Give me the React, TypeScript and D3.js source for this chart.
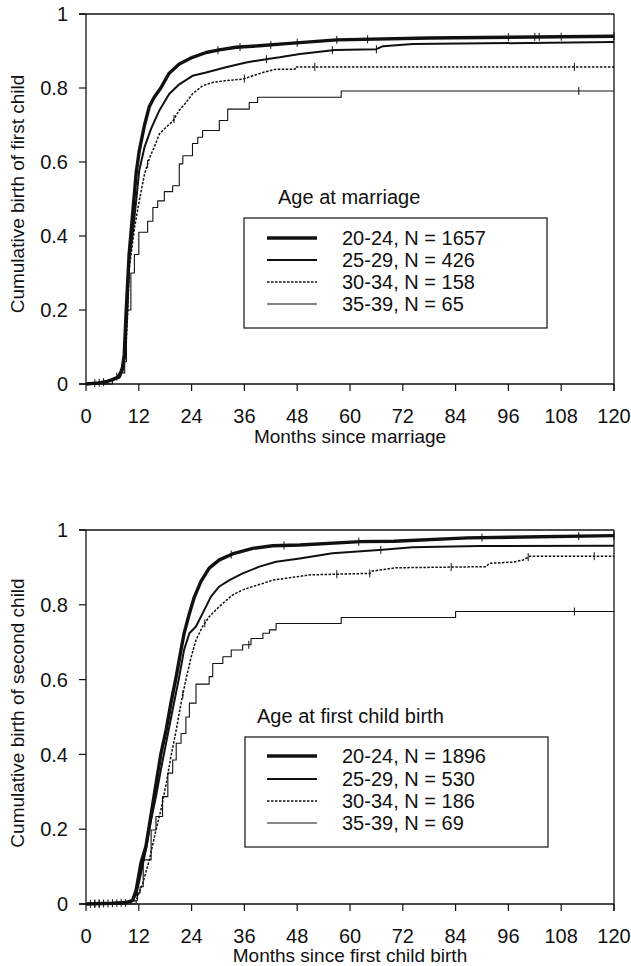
import React from "react";
import * as d3 from "d3";

// ---------- data ----------
const X_TICKS = [0, 12, 24, 36, 48, 60, 72, 84, 96, 108, 120];
const Y_TICKS = [0, 0.2, 0.4, 0.6, 0.8, 1];
const Y_TICK_LABELS = ["0", "0.2", "0.4", "0.6", "0.8", "1"];

const LEGEND_TITLE_1 = "Age at marriage";
const LEGEND_LABELS_1 = ["20-24, N = 1657", "25-29, N = 426", "30-34, N = 158", "35-39, N = 65"];
const X_TITLE_1 = "Months since marriage";
const Y_TITLE_1 = "Cumulative birth of first child";

const LEGEND_TITLE_2 = "Age at first child birth";
const LEGEND_LABELS_2 = ["20-24, N = 1896", "25-29, N = 530", "30-34, N = 186", "35-39, N = 69"];
const X_TITLE_2 = "Months since first child birth";
const Y_TITLE_2 = "Cumulative birth of second child";

type Pt = [number, number];

const FIRST_20_24: Pt[] = [[0,0],[3,0.003],[4.5,0.006],[6,0.012],[7.6,0.02],[8.3,0.045],[8.7,0.08],[9.1,0.19],[9.8,0.35],[10.6,0.46],[11.4,0.57],[12.1,0.63],[13.3,0.70],[14.4,0.75],[15.5,0.775],[17,0.80],[18.9,0.84],[21.2,0.865],[24.2,0.883],[27.3,0.896],[30.3,0.903],[34.1,0.91],[39.4,0.914],[45.5,0.92],[57,0.93],[78,0.935],[120,0.94]];
const FIRST_25_29: Pt[] = [[0,0],[4.5,0.005],[6.8,0.015],[8.3,0.035],[8.9,0.08],[9.4,0.2],[9.8,0.333],[10.6,0.405],[11.4,0.495],[12.1,0.577],[13.3,0.64],[14.8,0.69],[16.7,0.74],[18.9,0.784],[21.2,0.81],[24.2,0.833],[27.3,0.842],[31.8,0.856],[36.4,0.869],[40.9,0.878],[44,0.883],[48.6,0.892],[56.6,0.903],[66,0.905],[67.5,0.913],[74.3,0.919],[85,0.92],[120,0.924]];
const FIRST_30_34: Pt[] = [[0,0],[5,0.008],[7,0.02],[8.5,0.04],[9.1,0.1],[9.5,0.2],[9.85,0.315],[11,0.42],[12.1,0.495],[13.3,0.567],[14.4,0.61],[15.5,0.64],[16.7,0.676],[18.2,0.694],[19.7,0.71],[21.2,0.74],[22.7,0.76],[24.2,0.784],[26.5,0.806],[28.8,0.815],[31.8,0.82],[35.6,0.824],[37.9,0.833],[40.2,0.842],[43.2,0.851],[47.5,0.851],[47.6,0.857],[120,0.857]];
const FIRST_35_39: Pt[] = [[0,0],[6,0.015],[7.5,0.03],[8.8,0.06],[9.2,0.2],[10.2,0.3],[11,0.35],[12,0.41],[14,0.44],[15.2,0.477],[16.3,0.495],[17.8,0.52],[19.7,0.536],[21.2,0.595],[22,0.617],[24.2,0.65],[25.4,0.667],[26.5,0.685],[30.3,0.712],[32.2,0.743],[37.1,0.761],[39,0.775],[58,0.792],[120,0.792]];

const SECOND_20_24: Pt[] = [[0,0],[6,0.002],[9.1,0.004],[10.6,0.01],[11.4,0.037],[12.5,0.11],[13.6,0.153],[14.8,0.24],[15.9,0.32],[17,0.40],[18.2,0.465],[19.3,0.537],[20.5,0.608],[21.6,0.68],[22.3,0.724],[23.5,0.777],[24.6,0.82],[26.1,0.862],[28,0.898],[30.3,0.92],[33.3,0.936],[37.9,0.951],[42.4,0.958],[48.6,0.96],[62.3,0.969],[70,0.97],[86.8,0.979],[120,0.985]];
const SECOND_25_29: Pt[] = [[0,0],[9,0.003],[10.6,0.01],[11.4,0.024],[12.5,0.082],[13.6,0.144],[14.8,0.225],[15.9,0.287],[17,0.358],[18.2,0.43],[19.7,0.52],[21.2,0.608],[22.3,0.68],[23.5,0.724],[25,0.742],[26.5,0.777],[28.4,0.822],[30.3,0.849],[32.6,0.866],[35.6,0.884],[39.4,0.902],[43.2,0.915],[48.6,0.924],[56,0.938],[67.4,0.947],[74.2,0.954],[89.4,0.957],[120,0.958]];
const SECOND_30_34: Pt[] = [[0,0],[10,0.003],[11.4,0.01],[12.9,0.055],[14.4,0.118],[15.9,0.198],[17,0.25],[18.2,0.32],[19.3,0.394],[20.5,0.465],[21.6,0.537],[22.7,0.6],[23.9,0.66],[25,0.706],[26.5,0.742],[28,0.768],[29.5,0.786],[31.1,0.804],[33.3,0.826],[35.6,0.84],[37.9,0.849],[40.2,0.857],[42.4,0.866],[45.5,0.871],[50.9,0.88],[64.5,0.884],[65,0.89],[70.4,0.899],[90.9,0.902],[91.7,0.911],[97,0.914],[99.4,0.92],[100.9,0.93],[120,0.93]];
const SECOND_35_39: Pt[] = [[0,0],[11.4,0.01],[11.7,0.03],[12.3,0.046],[13,0.118],[14.8,0.198],[15.9,0.234],[17.4,0.287],[18.6,0.35],[19.7,0.385],[20.5,0.43],[21.6,0.456],[22.7,0.5],[23.5,0.537],[25,0.588],[28,0.608],[28.8,0.643],[31.1,0.661],[33,0.679],[35.6,0.693],[37.5,0.71],[40.2,0.724],[41.7,0.733],[43.2,0.75],[58,0.766],[84,0.782],[120,0.782]];

const CENSOR_FIRST_20_24 = [2, 4, 30, 35, 42, 48, 57, 64, 96, 102, 103, 108, 120];
const CENSOR_FIRST_25_29 = [3, 41, 56, 66];
const CENSOR_FIRST_30_34 = [7, 14, 20, 36, 52, 111];
const CENSOR_FIRST_35_39 = [112];

const CENSOR_SECOND_20_24 = [1, 2, 3, 5, 6, 8, 33, 45, 62, 90, 112, 120];
const CENSOR_SECOND_25_29 = [2, 4, 7, 67];
const CENSOR_SECOND_30_34 = [3, 9, 22, 27, 57, 64.5, 83, 100.5, 115.5];
const CENSOR_SECOND_35_39 = [37, 111];

// ---------- styles ----------
const INK = "#111";
const FONT = "'Liberation Sans', Arial, sans-serif";
const STYLES = [
  { width: 3.4, dash: "", step: false },
  { width: 2, dash: "", step: false },
  { width: 1.5, dash: "2.5,1.5", step: false },
  { width: 1.1, dash: "", step: true },
];

function valueAt(pts: Pt[], t: number, step: boolean) {
  let i = d3.bisector((p: Pt) => p[0]).right(pts, t) - 1;
  if (i < 0) return pts[0][1];
  if (i >= pts.length - 1) return pts[pts.length - 1][1];
  if (step) return pts[i][1];
  const a = pts[i], b = pts[i + 1];
  return a[1] + ((t - a[0]) / (b[0] - a[0])) * (b[1] - a[1]);
}

type PanelProps = {
  top: number;
  bottom: number;
  series: Pt[][];
  censors: number[][];
  legendTitle: string;
  legendLabels: string[];
  xTitle: string;
  yTitle: string;
  legendTitleY: number;
  boxTop: number;
  boxBottom: number;
  rowYs: number[];
  boxLeft: number;
  boxRight: number;
  legendTitleX: number;
  xTickY: number;
  xTitleY: number;
  yTitleY: number;
};

function Panel(p: PanelProps) {
  const left = 86, right = 614;
  const x = d3.scaleLinear().domain([0, 120]).range([left, right]);
  const y = d3.scaleLinear().domain([0, 1]).range([p.bottom, p.top]);
  return (
    <g>
      {/* frame */}
      <line x1={left} x2={left} y1={p.top} y2={p.bottom} stroke={INK} strokeWidth={1.3} />
      <line x1={left - 7} x2={right} y1={p.bottom} y2={p.bottom} stroke={INK} strokeWidth={1.3} />
      <line x1={left - 7} x2={right} y1={p.top} y2={p.top} stroke={INK} strokeWidth={1.3} />
      <line x1={right} x2={right} y1={p.top} y2={p.bottom + 7} stroke={INK} strokeWidth={1.3} />
      {Y_TICKS.map((t, i) => (
        <g key={"y" + i}>
          <line x1={left - 7} x2={left} y1={y(t)} y2={y(t)} stroke={INK} strokeWidth={1.2} />
          <text x={68} y={y(t)} dy="0.36em" textAnchor="end" fontSize={20} fontFamily={FONT} fill={INK}>
            {Y_TICK_LABELS[i]}
          </text>
        </g>
      ))}
      {X_TICKS.map((t) => (
        <g key={"x" + t}>
          <line x1={x(t)} x2={x(t)} y1={p.bottom} y2={p.bottom + 7} stroke={INK} strokeWidth={1.2} />
          <text x={x(t)} y={p.xTickY} textAnchor="middle" fontSize={20} fontFamily={FONT} fill={INK}>
            {t}
          </text>
        </g>
      ))}
      <text x={(left + right) / 2} y={p.xTitleY} textAnchor="middle" fontSize={19} fontFamily={FONT} fill={INK}>
        {p.xTitle}
      </text>
      <text
        transform={`translate(24,${p.yTitleY}) rotate(-90)`}
        textAnchor="middle"
        fontSize={19}
        fontFamily={FONT}
        fill={INK}
      >
        {p.yTitle}
      </text>
      {/* curves */}
      {p.series.map((s, i) => {
        const st = STYLES[i];
        const gen = d3
          .line<Pt>()
          .x((d) => x(d[0]))
          .y((d) => y(d[1]))
          .curve(st.step ? d3.curveStepAfter : d3.curveLinear);
        return (
          <path
            key={"s" + i}
            d={gen(s) || ""}
            fill="none"
            stroke={INK}
            strokeWidth={st.width}
            strokeDasharray={st.dash || undefined}
            strokeLinejoin="round"
          />
        );
      })}
      {p.censors.map((c, i) =>
        c.map((t, j) => {
          const v = valueAt(p.series[i], t, STYLES[i].step);
          return (
            <line
              key={"c" + i + "-" + j}
              x1={x(t)}
              x2={x(t)}
              y1={y(v) - 4}
              y2={y(v) + 4}
              stroke={INK}
              strokeWidth={1}
            />
          );
        })
      )}
      {/* legend */}
      <text x={p.legendTitleX} y={p.legendTitleY} fontSize={20} fontFamily={FONT} fill={INK}>
        {p.legendTitle}
      </text>
      <rect
        x={p.boxLeft}
        y={p.boxTop}
        width={p.boxRight - p.boxLeft}
        height={p.boxBottom - p.boxTop}
        fill="#fff"
        stroke={INK}
        strokeWidth={1.2}
      />
      {p.legendLabels.map((lab, i) => (
        <g key={"l" + i}>
          <line
            x1={267}
            x2={317}
            y1={p.rowYs[i]}
            y2={p.rowYs[i]}
            stroke={INK}
            strokeWidth={STYLES[i].width}
            strokeDasharray={STYLES[i].dash || undefined}
          />
          <text x={342} y={p.rowYs[i]} dy="0.36em" fontSize={20} fontFamily={FONT} fill={INK}>
            {lab}
          </text>
        </g>
      ))}
    </g>
  );
}

export default function App() {
  return (
    <svg
      width={631}
      height={966}
      viewBox="0 0 631 966"
      style={{ position: "absolute", left: 0, top: 0, display: "block", background: "#fff" }}
    >
      <rect x={0} y={0} width={631} height={966} fill="#fff" />
      <Panel
        top={14}
        bottom={384}
        series={[FIRST_20_24, FIRST_25_29, FIRST_30_34, FIRST_35_39]}
        censors={[CENSOR_FIRST_20_24, CENSOR_FIRST_25_29, CENSOR_FIRST_30_34, CENSOR_FIRST_35_39]}
        legendTitle={LEGEND_TITLE_1}
        legendLabels={LEGEND_LABELS_1}
        xTitle={X_TITLE_1}
        yTitle={Y_TITLE_1}
        legendTitleX={278}
        legendTitleY={204}
        boxLeft={244}
        boxRight={547}
        boxTop={218}
        boxBottom={328}
        rowYs={[238, 260, 282, 304]}
        xTickY={423}
        xTitleY={443}
        yTitleY={194}
      />
      <Panel
        top={530}
        bottom={904}
        series={[SECOND_20_24, SECOND_25_29, SECOND_30_34, SECOND_35_39]}
        censors={[CENSOR_SECOND_20_24, CENSOR_SECOND_25_29, CENSOR_SECOND_30_34, CENSOR_SECOND_35_39]}
        legendTitle={LEGEND_TITLE_2}
        legendLabels={LEGEND_LABELS_2}
        xTitle={X_TITLE_2}
        yTitle={Y_TITLE_2}
        legendTitleX={257}
        legendTitleY={723}
        boxLeft={245}
        boxRight={548}
        boxTop={737}
        boxBottom={847}
        rowYs={[756, 779, 801, 823]}
        xTickY={943}
        xTitleY={962}
        yTitleY={713}
      />
    </svg>
  );
}
